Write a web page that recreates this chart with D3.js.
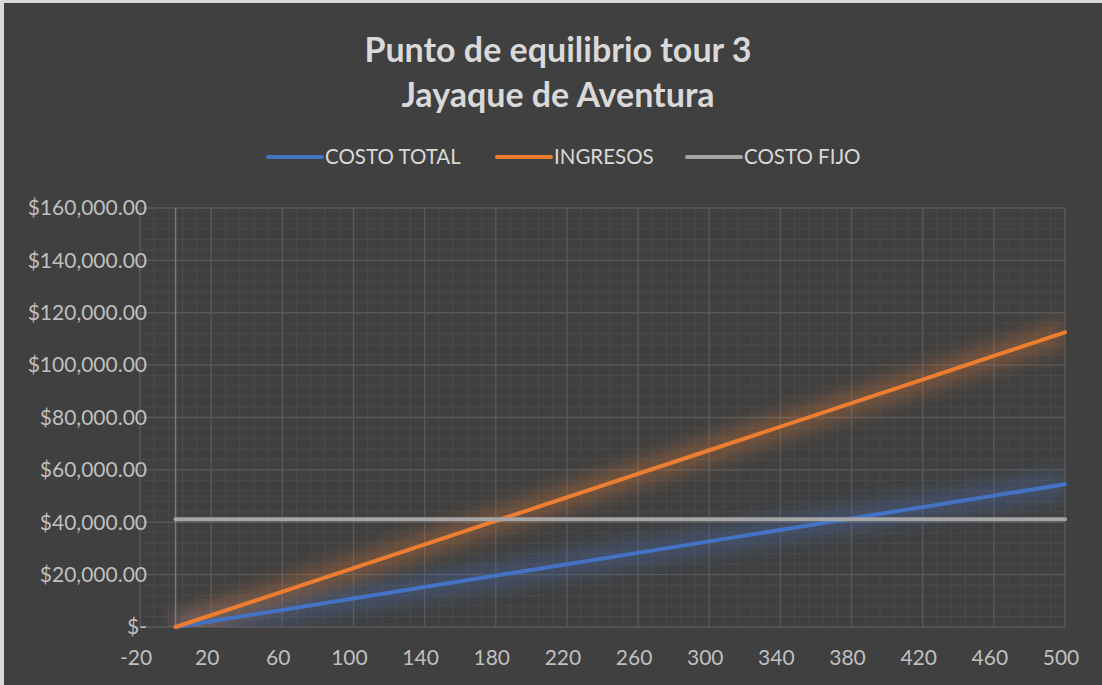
<!DOCTYPE html>
<html>
<head>
<meta charset="utf-8">
<script src="https://cdn.jsdelivr.net/npm/d3@7"></script>
<style>
  html, body { margin: 0; padding: 0; background: #d9d9d9; }
  svg { display: block; }
</style>
</head>
<body>
<svg id="chart" width="1102" height="685"></svg>
<script>
const titleLines = ["Punto de equilibrio tour 3", "Jayaque de Aventura"];
const seriesNames = ["COSTO TOTAL", "INGRESOS", "COSTO FIJO"];
const seriesColors = ["#4472c4", "#ed7d31", "#a5a5a5"];
const units = [0, 100, 200, 300, 400, 500];
const costoTotal = [0, 10900, 21800, 32700, 43600, 54500];
const ingresos = [0, 22500, 45000, 67500, 90000, 112500];
const costoFijo = [41150, 41150, 41150, 41150, 41150, 41150];
const xTicks = [-20, 20, 60, 100, 140, 180, 220, 260, 300, 340, 380, 420, 460, 500];
const yTicks = [0, 20000, 40000, 60000, 80000, 100000, 120000, 140000, 160000];

const svg = d3.select("#chart");
const W = 1102, H = 685;
svg.append("rect").attr("x", 4).attr("y", 3).attr("width", W - 4).attr("height", H - 3).attr("fill", "#404040");

const m = { left: 140, right: 1065, top: 208, bottom: 627 };
const x = d3.scaleLinear().domain([-20, 500]).range([m.left, m.right]);
const y = d3.scaleLinear().domain([0, 160000]).range([m.bottom, m.top]);

const defs = svg.append("defs");
const glow = defs.append("filter").attr("id", "glow").attr("x", "-20%").attr("y", "-60%").attr("width", "140%").attr("height", "220%");
glow.append("feGaussianBlur").attr("stdDeviation", 9);

// minor grid
const g = svg.append("g");
const minorX = d3.range(-20, 500.01, 8);
const minorY = d3.range(0, 160000.01, 4000);
g.selectAll(".mx").data(minorX).enter().append("line")
  .attr("x1", d => x(d)).attr("x2", d => x(d)).attr("y1", m.top).attr("y2", m.bottom)
  .attr("stroke", "#4a4a4a").attr("stroke-width", 1);
g.selectAll(".my").data(minorY).enter().append("line")
  .attr("y1", d => y(d)).attr("y2", d => y(d)).attr("x1", m.left).attr("x2", m.right)
  .attr("stroke", "#4a4a4a").attr("stroke-width", 1);
// major grid
g.selectAll(".Mx").data(xTicks).enter().append("line")
  .attr("x1", d => x(d)).attr("x2", d => x(d)).attr("y1", m.top).attr("y2", m.bottom)
  .attr("stroke", "#595959").attr("stroke-width", 1.3);
g.selectAll(".My").data(yTicks).enter().append("line")
  .attr("y1", d => y(d)).attr("y2", d => y(d)).attr("x1", m.left).attr("x2", m.right)
  .attr("stroke", "#595959").attr("stroke-width", 1.3);
// y axis line at x = 0
g.append("line").attr("x1", x(0)).attr("x2", x(0)).attr("y1", m.top).attr("y2", m.bottom)
  .attr("stroke", "#7a7a7a").attr("stroke-width", 1.5);

// tick labels
const fmt = d => d === 0 ? "$-" : "$" + d3.format(",.2f")(d);
svg.append("g").selectAll("text").data(yTicks).enter().append("text")
  .attr("x", 147).attr("y", d => y(d)).attr("dy", "0.35em")
  .attr("text-anchor", "end").attr("fill", "#bfbfbf")
  .attr("font-family", "Lato, sans-serif").attr("font-size", 21)
  .text(fmt);
svg.append("g").selectAll("text").data(xTicks).enter().append("text")
  .attr("x", d => x(d) - 4).attr("y", 658).attr("dy", "0.35em")
  .attr("text-anchor", "middle").attr("fill", "#bfbfbf")
  .attr("font-family", "Lato, sans-serif").attr("font-size", 21)
  .text(d => d);

// series
const series = [
  { name: seriesNames[0], values: costoTotal, color: seriesColors[0] },
  { name: seriesNames[1], values: ingresos, color: seriesColors[1] },
  { name: seriesNames[2], values: costoFijo, color: seriesColors[2] }
];
const line = d3.line().x((d, i) => x(units[i])).y(d => y(d));
const clipId = "clipPlot";
defs.append("clipPath").attr("id", clipId).append("rect")
  .attr("x", m.left).attr("y", m.top - 30).attr("width", m.right - m.left).attr("height", m.bottom - m.top + 30);
const glowG = svg.append("g").attr("clip-path", "url(#" + clipId + ")");
series.forEach(s => {
  glowG.append("path").datum(s.values).attr("d", line)
    .attr("fill", "none").attr("stroke", s.color).attr("stroke-width", 24)
    .attr("stroke-opacity", s.name === "COSTO FIJO" ? 0.12 : 0.32).attr("filter", "url(#glow)");
});
series.forEach(s => {
  svg.append("path").datum(s.values).attr("d", line)
    .attr("fill", "none").attr("stroke", s.color).attr("stroke-width", 4)
    .attr("stroke-linecap", "round");
});

// title
svg.append("g").selectAll("text").data(titleLines).enter().append("text")
  .attr("x", 558).attr("y", (d, i) => 50 + i * 45).attr("dy", "0.35em")
  .attr("text-anchor", "middle").attr("fill", "#d9d9d9")
  .attr("font-family", "Lato, sans-serif").attr("font-weight", "bold").attr("font-size", 34)
  .text(d => d);

// legend
const legendX = [268, 497, 687];
const lg = svg.append("g");
series.forEach((s, i) => {
  lg.append("line").attr("x1", legendX[i]).attr("x2", legendX[i] + 54).attr("y1", 157).attr("y2", 157)
    .attr("stroke", s.color).attr("stroke-width", 4).attr("stroke-linecap", "round");
  lg.append("text").attr("x", legendX[i] + 57).attr("y", 157).attr("dy", "0.35em")
    .attr("fill", "#d9d9d9").attr("font-family", "Lato, sans-serif").attr("font-size", 20.5)
    .text(s.name);
});
</script>
</body>
</html>
